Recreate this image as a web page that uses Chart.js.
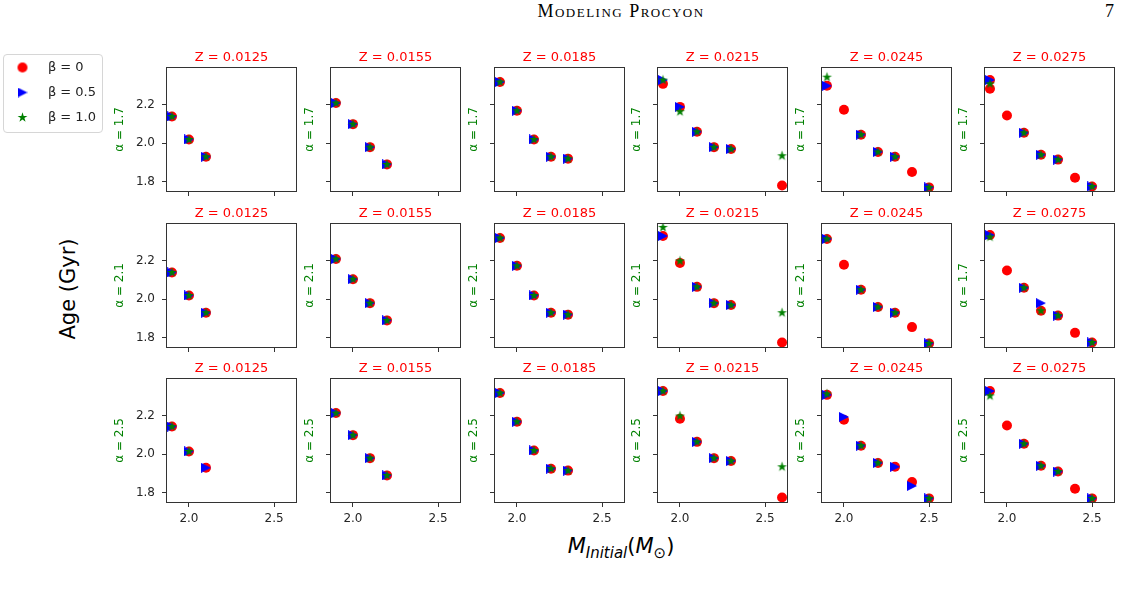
<!DOCTYPE html>
<html>
<head>
<meta charset="utf-8">
<script src="https://cdn.jsdelivr.net/npm/chart.js@4.4.1/dist/chart.umd.min.js"></script>
<style>
  body { margin: 0; width: 1130px; height: 589px; position: relative; background: #fff; overflow: hidden; font-family: "DejaVu Sans", sans-serif; }
  .abs { position: absolute; white-space: nowrap; }
  .panel { position: absolute; }
  #legendBox { position: absolute; left: 3px; top: 54px; width: 98px; height: 77px; border: 1px solid #d6d6d6; border-radius: 4px; }
  #legendWrap { position: absolute; left: 4px; top: 49px; width: 150px; height: 90px; }
</style>
</head>
<body>
<div class="abs" style="left:0;width:1242px;top:1px;text-align:center;font-family:'Liberation Serif',serif;font-variant:small-caps;font-size:18px;letter-spacing:1.5px;">Modeling Procyon</div>
<div class="abs" style="left:1105px;top:1px;font-family:'Liberation Serif',serif;font-size:18px;">7</div>

<div id="legendBox"></div>
<div id="legendWrap"><canvas id="legend"></canvas></div>

<div class="abs" style="left:68px;top:289px;transform:translate(-50%,-50%) rotate(-90deg);font-size:21px;">Age (Gyr)</div>
<div class="abs" style="left:621px;top:548px;transform:translate(-50%,-50%);font-size:21px;"><i>M</i><sub style="font-size:15px;"><i>Initial</i></sub>(<i>M</i><sub style="font-size:15px;">⊙</sub>)</div>

<script>
// initial masses (Msun) of the model grid
const masses = [1.9, 2.0, 2.1, 2.2, 2.3, 2.4, 2.5, 2.6];
const metallicities = ['0.0125', '0.0155', '0.0185', '0.0215', '0.0245', '0.0275'];
const alphaLabels = [
  ['1.7', '1.7', '1.7', '1.7', '1.7', '1.7'],
  ['2.1', '2.1', '2.1', '2.1', '2.1', '1.7'],
  ['2.5', '2.5', '2.5', '2.5', '2.5', '2.5']
];
const yTicks = [1.8, 2.0, 2.2];
const xTicks = [2.0, 2.5];

// ages (Gyr), one list per panel, one entry per mass (null = no model)
const ageBeta0Row1 = [
  [2.14, 2.02, 1.93],
  [2.21, 2.10, 1.98, 1.89],
  [2.32, 2.17, 2.02, 1.93, 1.92],
  [2.31, 2.19, 2.06, 1.98, 1.97, null, null, 1.78],
  [2.30, 2.175, 2.045, 1.955, 1.93, 1.85, 1.77],
  [[2.33, 2.285], 2.145, 2.055, 1.94, 1.915, 1.82, 1.775]
];
const ageBeta05Row1 = [
  [2.14, 2.02, 1.93],
  [2.21, 2.10, 1.98, 1.89],
  [2.32, 2.17, 2.02, 1.93, 1.92],
  [2.33, 2.19, 2.06, 1.98, 1.97],
  [2.30, null, 2.045, 1.955, 1.93, null, 1.77],
  [2.33, null, 2.055, 1.94, 1.915, null, 1.775]
];
const ageBeta10Row1 = [
  [2.14, 2.02, 1.93],
  [2.21, 2.10, 1.98, 1.89],
  [2.32, 2.17, 2.02, 1.93, 1.92],
  [2.33, 2.165, 2.06, 1.98, 1.97, null, null, 1.935],
  [2.345, null, 2.045, 1.955, 1.93, null, 1.77],
  [2.31, null, 2.055, 1.94, 1.915, null, 1.775]
];

const ageBeta0Row2 = [
  [2.14, 2.02, 1.93],
  [2.21, 2.105, 1.98, 1.89],
  [2.32, 2.175, 2.02, 1.93, 1.92],
  [2.33, 2.19, 2.065, 1.98, 1.97, null, null, 1.775],
  [2.315, 2.18, 2.05, 1.96, 1.93, 1.855, 1.77],
  [2.335, 2.15, 2.06, 1.94, 1.915, 1.825, 1.775]
];
const ageBeta05Row2 = [
  [2.14, 2.02, 1.93],
  [2.21, 2.105, 1.98, 1.89],
  [2.32, 2.175, 2.02, 1.93, 1.92],
  [2.33, null, 2.065, 1.98, 1.97],
  [2.315, null, 2.05, 1.96, 1.93, null, 1.77],
  [2.335, null, 2.06, 1.98, 1.915, null, 1.775]
];
const ageBeta10Row2 = [
  [2.14, 2.02, 1.93],
  [2.21, 2.105, 1.98, 1.89],
  [2.32, 2.175, 2.02, 1.93, 1.92],
  [2.375, 2.20, 2.065, 1.98, 1.97, null, null, 1.93],
  [2.315, null, 2.05, 1.96, 1.93, null, 1.77],
  [2.325, null, 2.06, 1.94, 1.915, null, 1.775]
];

const ageBeta0Row3 = [
  [2.145, 2.015, 1.93],
  [2.215, 2.10, 1.98, 1.89],
  [2.32, 2.17, 2.02, 1.925, 1.915],
  [2.33, 2.185, 2.065, 1.98, 1.965, null, null, 1.775],
  [2.31, 2.18, 2.045, 1.955, 1.935, 1.855, 1.77],
  [2.33, 2.15, 2.055, 1.94, 1.91, 1.82, 1.77]
];
const ageBeta05Row3 = [
  [2.145, 2.015, 1.93],
  [2.215, 2.10, 1.98, 1.89],
  [2.32, 2.17, 2.02, 1.925, 1.915],
  [2.33, null, 2.065, 1.98, 1.965],
  [2.31, 2.195, 2.045, 1.955, 1.935, 1.835, 1.77],
  [2.33, null, 2.055, 1.94, 1.91, null, 1.77]
];
const ageBeta10Row3 = [
  [2.145, 2.015],
  [2.215, 2.10, 1.98, 1.89],
  [2.32, 2.17, 2.02, 1.925, 1.915],
  [2.33, 2.20, 2.065, 1.98, 1.965, null, null, 1.935],
  [2.315, null, 2.045, 1.955, null, null, 1.77],
  [2.305, null, 2.055, 1.94, 1.91, null, 1.77]
];

const ageBeta0 = [ageBeta0Row1, ageBeta0Row2, ageBeta0Row3];
const ageBeta05 = [ageBeta05Row1, ageBeta05Row2, ageBeta05Row3];
const ageBeta10 = [ageBeta10Row1, ageBeta10Row2, ageBeta10Row3];

// panel placement on the page
const colLeft = [166, 330, 494, 657, 821, 984];
const rowTop = [67, 223, 378];
const panelW = 131, panelH = 125;
const xMin = 1.865, xMax = 2.635, yMin = 1.746, yMax = 2.398;

const RED = '#ff0000', BLUE = '#0000ff', GREEN = '#008000';

function makeTriangle(color, size) {
  const c = document.createElement('canvas');
  c.width = size; c.height = size;
  const g = c.getContext('2d');
  g.fillStyle = color;
  g.beginPath();
  g.moveTo(0, 0); g.lineTo(size, size / 2); g.lineTo(0, size);
  g.closePath(); g.fill();
  return c;
}

function makeStar(color, R) {
  const size = Math.ceil(2 * R + 2);
  const c = document.createElement('canvas');
  c.width = size; c.height = size;
  const g = c.getContext('2d');
  g.fillStyle = color;
  g.beginPath();
  for (let i = 0; i < 10; i++) {
    const rad = i % 2 === 0 ? R : R * 0.382;
    const a = -Math.PI / 2 + i * Math.PI / 5;
    const px = size / 2 + rad * Math.cos(a), py = size / 2 + rad * Math.sin(a);
    if (i === 0) g.moveTo(px, py); else g.lineTo(px, py);
  }
  g.closePath(); g.fill();
  return c;
}

function makeDot(color, r) {
  const size = 2 * r + 2;
  const c = document.createElement('canvas');
  c.width = size; c.height = size;
  const g = c.getContext('2d');
  g.fillStyle = color;
  g.beginPath(); g.arc(size / 2, size / 2, r, 0, Math.PI * 2); g.fill();
  return c;
}

const triImg = makeTriangle(BLUE, 10);
const starImg = makeStar(GREEN, 5.2);
const dotImg = makeDot(RED, 5);

function toPoints(ages) {
  const pts = [];
  ages.forEach((v, i) => {
    if (v === null || v === undefined) return;
    [].concat(v).forEach(a => pts.push({ x: masses[i], y: a }));
  });
  return pts;
}

const frame = {
  id: 'frame',
  afterDraw(chart) {
    const a = chart.chartArea, ctx = chart.ctx;
    ctx.save();
    ctx.strokeStyle = '#333';
    ctx.lineWidth = 1;
    ctx.strokeRect(Math.round(a.left) + 0.5, Math.round(a.top) + 0.5, Math.round(a.width) - 1, Math.round(a.height) - 1);
    ctx.restore();
  }
};

Chart.defaults.font.family = '"DejaVu Sans", sans-serif';

function drawPanel(r, c) {
  const W = c === 0 ? 54 : 28;
  const top = 22, bottom = 28, right = 6;
  const box = document.createElement('div');
  box.className = 'panel';
  box.style.left = (colLeft[c] - W) + 'px';
  box.style.top = (rowTop[r] - top) + 'px';
  box.style.width = (W + panelW + right) + 'px';
  box.style.height = (top + panelH + bottom) + 'px';
  const canvas = document.createElement('canvas');
  box.appendChild(canvas);
  document.body.appendChild(box);

  new Chart(canvas, {
    type: 'scatter',
    data: {
      datasets: [
        { label: 'β = 0', data: toPoints(ageBeta0[r][c]), pointStyle: 'circle', pointRadius: 5,
          backgroundColor: RED, borderColor: RED, borderWidth: 0, order: 3 },
        { label: 'β = 0.5', data: toPoints(ageBeta05[r][c]), pointStyle: triImg, pointRadius: 5,
          backgroundColor: BLUE, borderColor: BLUE, order: 2 },
        { label: 'β = 1.0', data: toPoints(ageBeta10[r][c]), pointStyle: starImg, pointRadius: 5,
          backgroundColor: GREEN, borderColor: GREEN, order: 1 }
      ]
    },
    options: {
      responsive: true,
      maintainAspectRatio: false,
      devicePixelRatio: 1,
      animation: false,
      events: [],
      layout: { padding: { left: 0, right: right, top: 0, bottom: 0 } },
      plugins: {
        legend: { display: false },
        tooltip: { enabled: false },
        title: {
          display: true, fullSize: false,
          text: 'Z = ' + metallicities[c],
          color: RED,
          font: { size: 13, weight: 'normal' },
          padding: { top: 4.4, bottom: 2 }
        }
      },
      scales: {
        x: {
          type: 'linear', min: xMin, max: xMax,
          afterBuildTicks: s => { s.ticks = xTicks.map(v => ({ value: v })); },
          afterFit: s => { s.height = bottom; },
          ticks: { display: r === 2, color: '#262626', font: { size: 12 }, padding: 5, maxRotation: 0,
                   callback: v => v.toFixed(1) },
          grid: { drawOnChartArea: false, drawTicks: true, tickLength: 4, color: '#333' },
          border: { display: false }
        },
        y: {
          type: 'linear', min: yMin, max: yMax,
          afterBuildTicks: s => { s.ticks = yTicks.map(v => ({ value: v })); },
          afterFit: s => { s.width = W; },
          ticks: { display: c === 0, color: '#262626', font: { size: 12 }, padding: 7,
                   callback: v => v.toFixed(1) },
          grid: { drawOnChartArea: false, drawTicks: true, tickLength: 4, color: '#333' },
          border: { display: false },
          title: { display: true, text: 'α = ' + alphaLabels[r][c], color: GREEN,
                   font: { size: 12 }, padding: { top: 1, bottom: 0 } }
        }
      }
    },
    plugins: [frame]
  });
}

for (let r = 0; r < 3; r++) {
  for (let c = 0; c < 6; c++) drawPanel(r, c);
}

// legend, drawn by Chart.js's legend plugin
new Chart(document.getElementById('legend'), {
  type: 'scatter',
  data: {
    datasets: [
      { label: '   β = 0', data: [], pointStyle: dotImg, backgroundColor: RED },
      { label: '   β = 0.5', data: [], pointStyle: triImg, backgroundColor: BLUE },
      { label: '   β = 1.0', data: [], pointStyle: starImg, backgroundColor: GREEN }
    ]
  },
  options: {
    responsive: true,
    maintainAspectRatio: false,
    devicePixelRatio: 1,
    animation: false,
    events: [],
    scales: { x: { display: false }, y: { display: false } },
    plugins: {
      tooltip: { enabled: false },
      legend: {
        position: 'left', align: 'start', maxWidth: 200,
        labels: { usePointStyle: true, color: '#222', font: { size: 13 }, padding: 12 }
      }
    }
  }
});
</script>
</body>
</html>
